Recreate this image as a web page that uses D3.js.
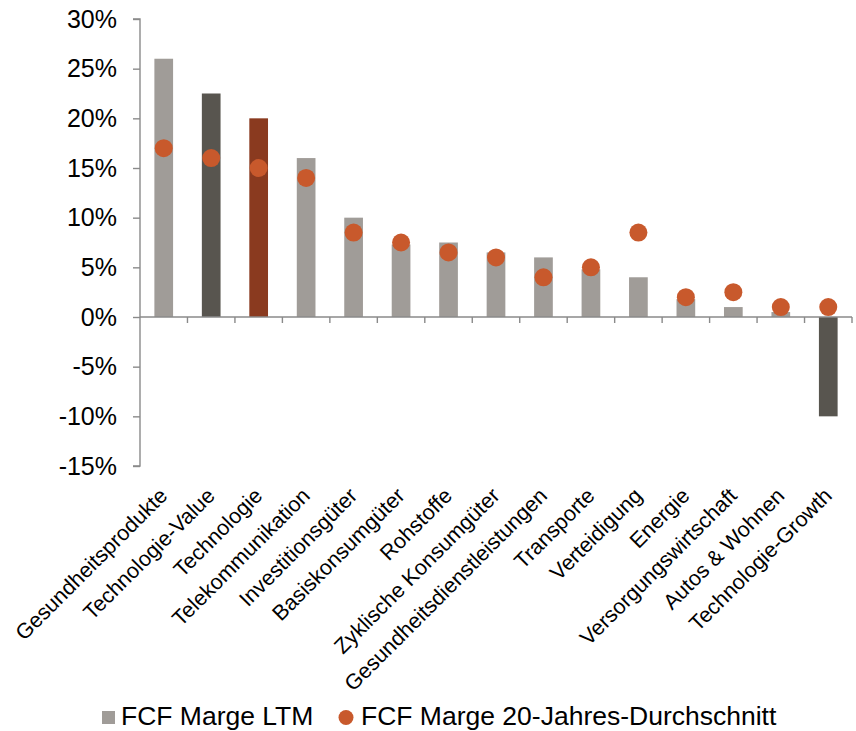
<!DOCTYPE html>
<html>
<head>
<meta charset="utf-8">
<script src="https://cdn.jsdelivr.net/npm/d3@7"></script>
<style>
  html, body { margin: 0; padding: 0; background: #fff; }
  svg { display: block; font-family: "Liberation Sans", Arial, sans-serif; }
</style>
</head>
<body>
<svg id="chart" width="856" height="731"></svg>
<script>
const categories = ["Gesundheitsprodukte", "Technologie-Value", "Technologie", "Telekommunikation",
  "Investitionsgüter", "Basiskonsumgüter", "Rohstoffe", "Zyklische Konsumgüter",
  "Gesundheitsdienstleistungen", "Transporte", "Verteidigung", "Energie",
  "Versorgungswirtschaft", "Autos & Wohnen", "Technologie-Growth"];
const ltmValues = [26, 22.5, 20, 16, 10, 7.3, 7.5, 6.5, 6, 4.8, 4, 1.8, 1, 0.5, -10];
const avgValues = [17, 16, 15, 14, 8.5, 7.5, 6.5, 6, 4, 5, 8.5, 2, 2.5, 1, 1];
const barColorKeys = ["light", "dark", "brown", "light", "light", "light", "light", "light",
  "light", "light", "light", "light", "light", "light", "dark"];
const yTicks = [30, 25, 20, 15, 10, 5, 0, -5, -10, -15];
const seriesNames = ["FCF Marge LTM", "FCF Marge 20-Jahres-Durchschnitt"];

const colors = { light: "#a09c98", dark: "#58554f", brown: "#8a3a1f", dot: "#c8592c", axis: "#8a8a8a" };

const svg = d3.select("#chart");
const plotLeft = 140, plotRight = 852, plotTop = 19, plotBottom = 466;

const xOuter = d3.scaleBand().domain(categories).range([plotLeft, plotRight]).padding(0);
const y = d3.scaleLinear().domain([-15, 30]).range([plotBottom, plotTop]);
const barW = 18.7;

// bars
svg.append("g").selectAll("rect").data(categories).join("rect")
  .attr("x", d => xOuter(d) + (xOuter.bandwidth() - barW) / 2)
  .attr("width", barW)
  .attr("y", (d, i) => y(Math.max(0, ltmValues[i])))
  .attr("height", (d, i) => Math.abs(y(ltmValues[i]) - y(0)))
  .attr("fill", (d, i) => colors[barColorKeys[i]]);

// y axis
const yAxis = d3.axisLeft(y).tickValues(yTicks).tickFormat(d => d + "%").tickSize(7).tickPadding(16);
const gy = svg.append("g").attr("transform", `translate(${plotLeft},0)`).call(yAxis);
gy.select(".domain").attr("stroke", colors.axis).attr("stroke-width", 1.4)
  .attr("d", `M-7,${y(30)}H0V${y(-15)}H-7`);
gy.selectAll(".tick line").attr("stroke", colors.axis).attr("stroke-width", 1.4);
gy.selectAll(".tick text").attr("font-size", 25).attr("fill", "#000")
  .attr("font-family", "'Liberation Sans', Arial, sans-serif");

// x axis at zero
const gx = svg.append("g").attr("transform", `translate(0,${y(0)})`);
gx.append("line").attr("x1", plotLeft).attr("x2", plotRight).attr("stroke", colors.axis).attr("stroke-width", 1.4);
const boundaries = categories.map(c => xOuter(c) + xOuter.bandwidth());
gx.selectAll("line.tk").data(boundaries).join("line").attr("class", "tk")
  .attr("x1", d => d).attr("x2", d => d).attr("y1", 0).attr("y2", 6)
  .attr("stroke", colors.axis).attr("stroke-width", 1.4);

// x labels
svg.append("g").selectAll("text").data(categories).join("text")
  .attr("transform", d => `translate(${xOuter(d) + xOuter.bandwidth() / 2 + 5},497) rotate(-45)`)
  .attr("text-anchor", "end")
  .attr("font-size", 21.5)
  .attr("fill", "#000")
  .text(d => d);

// dots
svg.append("g").selectAll("circle").data(categories).join("circle")
  .attr("cx", d => xOuter(d) + xOuter.bandwidth() / 2)
  .attr("cy", (d, i) => y(avgValues[i]))
  .attr("r", 9)
  .attr("fill", colors.dot);

// legend
const lg = svg.append("g");
lg.append("rect").attr("x", 102).attr("y", 711).attr("width", 13).attr("height", 13).attr("fill", colors.light);
lg.append("text").attr("x", 121).attr("y", 724.5).attr("font-size", 26.5).attr("fill", "#000").text(seriesNames[0]);
lg.append("circle").attr("cx", 346).attr("cy", 717.5).attr("r", 7.5).attr("fill", colors.dot);
lg.append("text").attr("x", 361).attr("y", 724.5).attr("font-size", 26.5).attr("fill", "#000").text(seriesNames[1]);
</script>
</body>
</html>
